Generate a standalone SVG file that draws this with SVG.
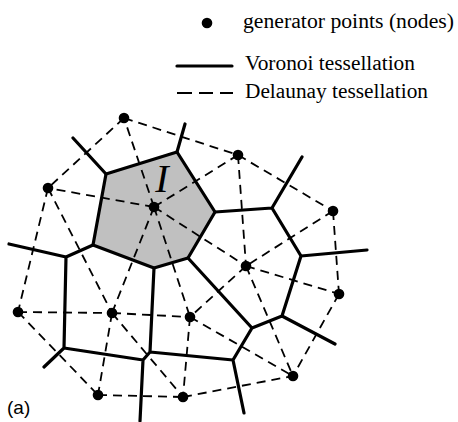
<svg xmlns="http://www.w3.org/2000/svg" width="458" height="422" viewBox="0 0 458 422">
<style>
.v{stroke:#000;stroke-width:3.2;stroke-linecap:round;stroke-linejoin:round;fill:none}
.d{stroke:#000;stroke-width:1.8;stroke-dasharray:9 6;fill:none}
.p{fill:#000}
.t{font-family:"Liberation Serif","DejaVu Serif",serif;font-size:20px;fill:#000}
</style>
<rect width="458" height="422" fill="#fff"/>
<g id="legend">
<circle cx="207" cy="23" r="5.3" class="p"/>
<text class="t" x="243" y="28" textLength="211" lengthAdjust="spacingAndGlyphs">generator points (nodes)</text>
<line x1="177" y1="66" x2="232" y2="66" class="v" stroke-linecap="butt"/>
<text class="t" x="245" y="70" textLength="170" lengthAdjust="spacingAndGlyphs">Voronoi tessellation</text>
<path d="M177 93h15M199 93h14M220 93h13" stroke="#000" stroke-width="1.8"/>
<text class="t" x="245" y="98" textLength="183" lengthAdjust="spacingAndGlyphs">Delaunay tessellation</text>
</g>
<g id="cell-I">
<polygon points="106,174 177,152 215,212 188,258 154,268 93,245" fill="#c0c0c0"/>
</g>
<g id="delaunay">
<path class="d" d="M154 207L124 118M154 207L238 155M154 207L48 188M154 207L246 266M154 207L112 313M154 207L190 317"/>
<path class="d" d="M124 118L238 155M124 118L48 188M238 155L333 211M238 155L246 266M333 211L246 266M333 211L339 294M246 266L339 294M246 266L190 317M246 266L293 376M339 294L293 376"/>
<path class="d" d="M48 188L18 312M48 188L112 313M18 312L112 313M112 313L190 317M18 312L98 395M112 313L98 395M98 395L183 397M112 313L183 397M190 317L183 397M183 397L293 376M190 317L293 376"/>
</g>
<g id="voronoi">
<polygon class="v" points="106,174 177,152 215,212 188,258 154,268 93,245"/>
<path class="v" d="M177 152L185 124M106 174L73 138M93 245L66 257L9 244M66 257L64 348L44 367M64 348L143 360L150 352L154 268M143 360L140 421M150 352L233 360L244 413M233 360L252 328L188 258M252 328L282 316L335 344M282 316L301 256L367 250M301 256L272 208L302 157M272 208L215 212"/>
</g>
<g id="nodes">
<circle id="A" cx="124" cy="118" r="5.3" class="p"/>
<circle id="B" cx="238" cy="155" r="5.3" class="p"/>
<circle id="C" cx="48" cy="188" r="5.3" class="p"/>
<circle id="I" cx="154" cy="207" r="5.3" class="p"/>
<circle id="D" cx="333" cy="211" r="5.3" class="p"/>
<circle id="E" cx="246" cy="266" r="5.3" class="p"/>
<circle id="F" cx="339" cy="294" r="5.3" class="p"/>
<circle id="G" cx="18" cy="312" r="5.3" class="p"/>
<circle id="H" cx="112" cy="313" r="5.3" class="p"/>
<circle id="J" cx="190" cy="317" r="5.3" class="p"/>
<circle id="K" cx="98" cy="395" r="5.3" class="p"/>
<circle id="L" cx="183" cy="397" r="5.3" class="p"/>
<circle id="M" cx="293" cy="376" r="5.3" class="p"/>
</g>
<text x="162" y="192" text-anchor="middle" font-family="Liberation Serif,DejaVu Serif,serif" font-style="italic" font-size="40">I</text>
<text x="7" y="414" font-family="Liberation Sans,Arial,sans-serif" font-size="19">(a)</text>
</svg>
